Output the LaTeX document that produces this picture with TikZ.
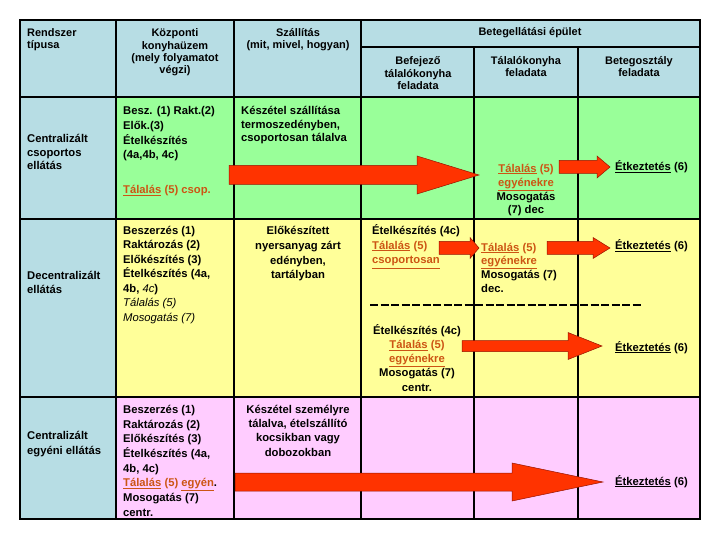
\documentclass[tikz,border=0pt]{standalone}
\usepackage{fontspec}
\setmainfont{Liberation Sans}
\usetikzlibrary{calc}

\definecolor{hdblue}{RGB}{183,221,228}
\definecolor{rowgreen}{RGB}{153,255,153}
\definecolor{rowyellow}{RGB}{255,255,153}
\definecolor{rowpink}{RGB}{255,204,255}
\definecolor{arrowred}{RGB}{255,51,0}
\definecolor{arrowedge}{RGB}{150,20,0}
\definecolor{servetext}{RGB}{204,85,20}

\newcommand{\tal}[1]{\textcolor{servetext}{#1}}
\newcommand{\eat}{\underline{Étkeztetés} (6)}
% block arrow: start, tip, shaft half width, head half width, head length
\newcommand{\blockarrow}[5]{%
  \draw[bigarrow] ($(#1)+(0,-#3)$) -- ($(#2)+(-#5,-#3)$) -- ($(#2)+(-#5,-#4)$)
    -- (#2) -- ($(#2)+(-#5,#4)$) -- ($(#2)+(-#5,#3)$) -- ($(#1)+(0,#3)$) -- cycle;}
% font size and leading of a cell
\newcommand{\lead}[1]{\bfseries\fontsize{11.3}{#1}\selectfont}

\begin{document}
\begin{tikzpicture}[
  x=1bp, y=-1bp,
  cell/.style={inner sep=0pt, align=left, anchor=base west, font=\lead{14.5}},
  ccell/.style={cell, align=center, anchor=base},
  hdcell/.style={inner sep=0pt, align=center, anchor=base, font=\bfseries\fontsize{11}{12.4}\selectfont},
  grid/.style={line width=1.8bp},
  bigarrow/.style={fill=arrowred, draw=arrowedge, line width=0.5bp, line join=miter}
]
\useasboundingbox (0,0) rectangle (720,540);

% backgrounds
\fill[hdblue] (20,20) rectangle (700,97);
\fill[hdblue] (20,97) rectangle (116,519);
\fill[rowgreen] (116,97) rectangle (700,219);
\fill[rowyellow] (116,219) rectangle (700,397);
\fill[rowpink] (116,397) rectangle (700,519);

% grid
\draw[grid] (20,20) rectangle (700,519);
\draw[grid] (116,20) -- (116,519);
\draw[grid] (234,20) -- (234,519);
\draw[grid] (361,20) -- (361,519);
\draw[grid] (474,47) -- (474,519);
\draw[grid] (578,47) -- (578,519);
\draw[grid] (361,47) -- (700,47);
\draw[grid] (20,97) -- (700,97);
\draw[grid] (20,219) -- (700,219);
\draw[grid] (20,397) -- (700,397);

% header (nodes placed at the baseline of their last line)
\node[hdcell, align=left, anchor=base west] (hdType) at (27,49) {Rendszer\\típusa};
\node[hdcell] (hdKitchen) at (175,74) {Központi\\konyhaüzem\\(mely folyamatot\\végzi)};
\node[hdcell] (hdTransport) at (298,49) {Szállítás\\(mit, mivel, hogyan)};
\node[hdcell] (hdBuilding) at (530,36) {Betegellátási épület};
\node[hdcell, font=\bfseries\fontsize{11}{13}\selectfont] (hdFinish) at (418,90) {Befejező\\tálalókonyha\\feladata};
\node[hdcell, font=\bfseries\fontsize{11}{13}\selectfont] (hdServe) at (526,77) {Tálalókonyha\\feladata};
\node[hdcell, font=\bfseries\fontsize{11}{13}\selectfont] (hdWard) at (639,77) {Betegosztály\\feladata};

% row 1: centralised group
\node[cell, font=\lead{14}] (r1Type) at (27,170) {Centralizált\\csoportos\\ellátás};
\node[cell, font=\lead{15}] (r1Kitchen) at (123,159) {Besz. (1) Rakt.(2)\\Elők.(3)\\Ételkészítés\\(4a,4b, 4c)};
\node[cell] (r1Serve) at (123,194) {\tal{\underline{Tálalás} (5) csop.}};
\node[cell, font=\lead{14}] (r1Transport) at (241,142) {Készétel szállítása\\termoszedényben,\\csoportosan tálalva};
\node[ccell, font=\lead{14}] (r1Indiv) at (526,214) {\tal{\underline{Tálalás} (5)}\\\tal{\underline{egyénekre}}\\Mosogatás\\(7) dec};
\node[cell] (r1Eat) at (615,171) {\eat};

% row 2: decentralised
\node[cell, font=\lead{14}] (r2Type) at (27,293) {Decentralizált\\ellátás};
\node[cell] (r2Kitchen) at (123,321) {Beszerzés (1)\\Raktározás (2)\\Előkészítés (3)\\Ételkészítés (4a,\\4b, {\mdseries\itshape 4c})\\{\mdseries\itshape Tálalás (5)}\\{\mdseries\itshape Mosogatás (7)}};
\node[ccell, font=\lead{15}] (r2Transport) at (298,279) {Előkészített\\nyersanyag zárt\\edényben,\\tartályban};
\node[cell, font=\lead{15}] (r2Prep) at (372,264) {Ételkészítés (4c)\\\tal{\underline{Tálalás} (5)}\\\tal{\underline{csoportosan}}};
\node[cell, font=\lead{13.7}] (r2Indiv) at (481,292) {\tal{\underline{Tálalás} (5)}\\\tal{\underline{egyénekre}}\\Mosogatás (7)\\dec.};
\node[cell] (r2Eat) at (615,250) {\eat};
\coordinate (dashL) at (370,305);
\coordinate (dashR) at (643,305);
\draw[line width=1.2bp, dash pattern=on 8bp off 2.5bp] (dashL) -- (dashR);
\node[ccell, font=\lead{14.25}] (r2Central) at (417,391) {Ételkészítés (4c)\\\tal{\underline{Tálalás} (5)}\\\tal{\underline{egyénekre}}\\Mosogatás (7)\\centr.};
\node[cell] (r2EatB) at (615,351) {\eat};

% row 3: centralised individual
\node[cell, font=\lead{15}] (r3Type) at (27,454) {Centralizált\\egyéni ellátás};
\node[cell, font=\lead{14.7}] (r3Kitchen) at (123,516) {Beszerzés (1)\\Raktározás (2)\\Előkészítés (3)\\Ételkészítés (4a,\\4b, 4c)\\\tal{\underline{Tálalás} (5) \underline{egyén}}.\\Mosogatás (7)\\centr.};
\node[ccell, font=\lead{14.3}] (r3Transport) at (298,456) {Készétel személyre\\tálalva, ételszállító\\kocsikban vagy\\dobozokban};
\node[cell] (r3Eat) at (615,485) {\eat};

% arrows
\coordinate (a1s) at (229,175);  \coordinate (a1t) at (479,175);
\coordinate (a2s) at (559,167);  \coordinate (a2t) at (610,167);
\coordinate (a3s) at (439,248);  \coordinate (a3t) at (479,248);
\coordinate (a4s) at (547,248);  \coordinate (a4t) at (610,248);
\coordinate (a5s) at (462,346);  \coordinate (a5t) at (602,346);
\coordinate (a6s) at (235,482);  \coordinate (a6t) at (603,482);
\blockarrow{a1s}{a1t}{9.5}{19}{62}
\blockarrow{a2s}{a2t}{6.5}{11}{13}
\blockarrow{a3s}{a3t}{6.5}{10.5}{9}
\blockarrow{a4s}{a4t}{6.5}{10.5}{17}
\blockarrow{a5s}{a5t}{5.5}{13.5}{34}
\blockarrow{a6s}{a6t}{9}{19}{91}

\end{tikzpicture}
\end{document}
